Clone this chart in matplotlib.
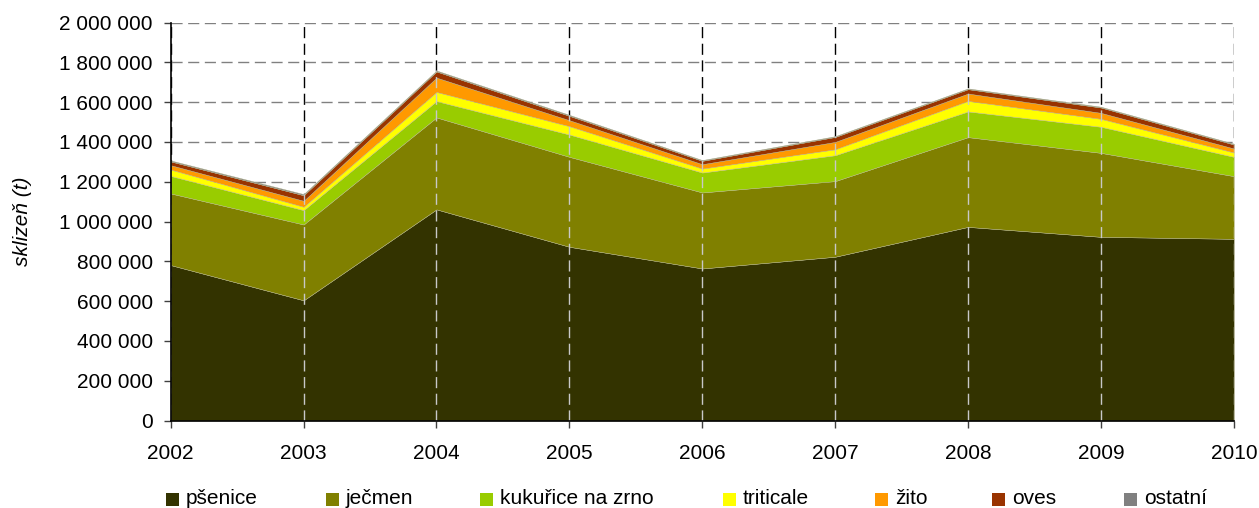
import matplotlib
matplotlib.use("Agg")
import matplotlib.pyplot as plt
from matplotlib.patches import Rectangle
from matplotlib.ticker import FuncFormatter
import numpy as np

# harvest in tonnes
years = [2002, 2003, 2004, 2005, 2006, 2007, 2008, 2009, 2010]
psenice = [781000, 604000, 1061000, 873000, 764000, 823000, 973000, 923000, 913000]
jecmen = [360000, 381000, 462000, 452000, 382000, 380000, 451000, 422000, 315000]
kukurice = [88000, 72000, 82000, 112000, 100000, 130000, 129000, 131000, 97000]
triticale = [32000, 17000, 46000, 42000, 20000, 30000, 53000, 40000, 22000]
zito = [22000, 30000, 72000, 30000, 22000, 37000, 37000, 30000, 20000]
oves = [19000, 28000, 31000, 22000, 17000, 25000, 22000, 27000, 20000]
ostatni = [5000, 6000, 5000, 5000, 4000, 4000, 4000, 4000, 4000]

labels = ["pšenice", "ječmen", "kukuřice na zrno", "triticale", "žito", "oves", "ostatní"]
colors = ["#333300", "#808000", "#99CC00", "#FFFF00", "#FF9900", "#993300", "#808080"]

plt.rcParams['font.family'] = ['Liberation Sans', 'DejaVu Sans']

fig = plt.figure(figsize=(12.59, 5.08), dpi=100)
ax = fig.add_axes([0.1356, 0.1722, 0.8444, 0.7835])

series = [psenice, jecmen, kukurice, triticale, zito, oves, ostatni]
ax.stackplot(years, *series, colors=colors, linewidth=0.3, edgecolor='#b8b890', zorder=2)

# grid: gray dashed horizontals, black dashed verticals behind the areas
ax.set_ylim(0, 2000000)
ax.set_xlim(years[0], years[-1])
ax.set_yticks(np.arange(0, 2000001, 200000))
ax.set_xticks(years)
ax.yaxis.grid(True, color='#808080', linestyle=(0, (8, 4)), linewidth=1, zorder=0)
ax.xaxis.grid(True, color='black', linestyle=(0, (8, 4)), linewidth=1, zorder=0)
ax.set_axisbelow(True)

# lighter dashed lines over the filled area
total = np.sum(series, axis=0)
ax.vlines(years[1:], 0, total[1:], colors='#c8c8c8', linestyles=(0, (8, 4)), linewidth=1, zorder=3)

ax.yaxis.set_major_formatter(FuncFormatter(lambda v, p: f"{int(v):,}".replace(",", " ")))

for s in ['top', 'right']:
    ax.spines[s].set_visible(False)
ax.spines['left'].set_linewidth(1.2)
ax.spines['bottom'].set_linewidth(1.2)
ax.spines['left'].set_zorder(4)
ax.spines['bottom'].set_zorder(4)
ax.tick_params(axis='y', direction='out', length=5, width=1, pad=8, labelsize=15, color='#404040')
ax.tick_params(axis='x', direction='out', length=5, width=1, pad=12, labelsize=15, color='#404040')

fig.text(0.0175, 0.564, "sklizeň (t)", rotation=90, fontsize=15, style='italic',
         ha='center', va='center')

# legend along the bottom
leg_x = [166, 326, 480, 723, 875, 992, 1124]
for x, lab, c in zip(leg_x, labels, colors):
    fig.patches.append(Rectangle((x / 1259, (508 - 506) / 508), 13 / 1259, 13 / 508,
                                 transform=fig.transFigure, facecolor=c, edgecolor='none'))
    fig.text((x + 20) / 1259, (508 - 499) / 508, lab, fontsize=15, ha='left', va='center')

fig.savefig("out.png", dpi=100)
